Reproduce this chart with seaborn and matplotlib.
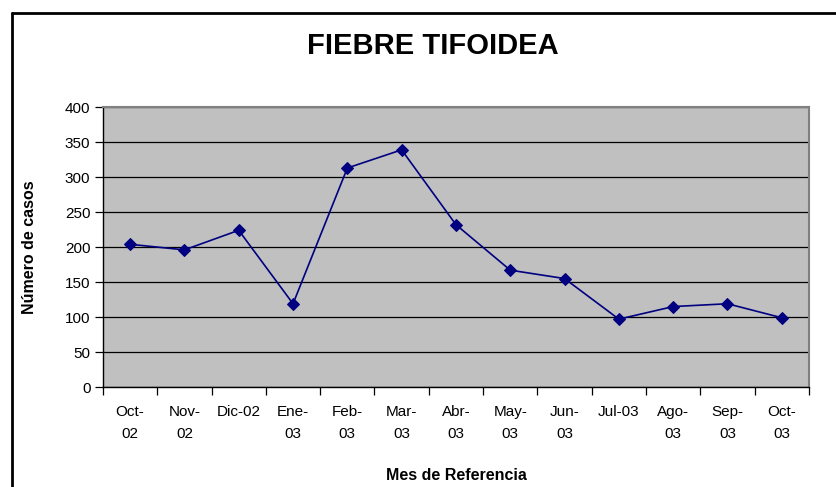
import numpy as np
import pandas as pd
import seaborn as sns
import matplotlib.pyplot as plt
from matplotlib.lines import Line2D

# datos
meses = ["Oct-\n02", "Nov-\n02", "Dic-02", "Ene-\n03", "Feb-\n03", "Mar-\n03", "Abr-\n03",
         "May-\n03", "Jun-\n03", "Jul-03", "Ago-\n03", "Sep-\n03", "Oct-\n03"]
casos = [204, 196, 224, 119, 313, 339, 232, 167, 155, 97, 115, 119, 99]

sns.set_style("white")
plt.rcParams['font.family'] = ['Liberation Sans', 'DejaVu Sans']
plt.rcParams['text.color'] = 'black'
plt.rcParams['xtick.color'] = 'black'
plt.rcParams['ytick.color'] = 'black'
plt.rcParams['axes.labelcolor'] = 'black'

df = pd.DataFrame({"pos": np.arange(len(meses)), "casos": casos})

fig = plt.figure(figsize=(8.37, 4.87), dpi=100)
ax = fig.add_axes([0.123, 0.2053, 0.8435, 0.5747])
ax.set_facecolor("#C0C0C0")

sns.lineplot(data=df, x="pos", y="casos", ax=ax, color="#000080", linewidth=1.2,
             marker="D", markersize=6, markeredgecolor="#000080", zorder=3)

ax.set_xlim(-0.5, len(meses) - 0.5)
ax.set_ylim(0, 400)
ax.set_yticks(range(0, 401, 50))
ax.yaxis.grid(True, color="black", linewidth=0.9)
ax.set_axisbelow(True)

# ticks en los limites de categoria, etiquetas en el centro
ax.set_xticks(np.arange(-0.5, len(meses), 1.0))
ax.set_xticklabels([])
ax.set_xticks(np.arange(len(meses)), minor=True)
ax.set_xticklabels(meses, minor=True, fontsize=11, linespacing=1.75, va="top")
ax.tick_params(axis="x", which="major", direction="out", length=6, width=0.9, color="black", bottom=True)
ax.tick_params(axis="x", which="minor", length=0, pad=13)
ax.tick_params(axis="y", direction="out", length=6, width=0.9, color="black", left=True, labelsize=11, pad=3)

for s in ["left", "bottom"]:
    ax.spines[s].set_color("black")
    ax.spines[s].set_linewidth(1.0)
for s in ["top", "right"]:
    ax.spines[s].set_color("#808080")
    ax.spines[s].set_linewidth(1.5)

ax.set_xlabel("Mes de Referencia", fontsize=11.5, fontweight="bold")
ax.set_ylabel("Número de casos", fontsize=11.5, fontweight="bold")
ax.xaxis.set_label_coords(0.5, -0.29)
ax.yaxis.set_label_coords(-0.093, 0.5)

fig.text(0.517, 0.905, "FIEBRE TIFOIDEA", ha="center", va="center", fontsize=21, fontweight="bold")

# marco del grafico (arriba e izquierda)
fig.add_artist(Line2D([12 / 837, 12 / 837], [0, 1 - 13 / 487], transform=fig.transFigure, color="black", linewidth=2))
fig.add_artist(Line2D([12 / 837, 1], [1 - 13 / 487, 1 - 13 / 487], transform=fig.transFigure, color="black", linewidth=2))

fig.savefig("out.png", dpi=100)
